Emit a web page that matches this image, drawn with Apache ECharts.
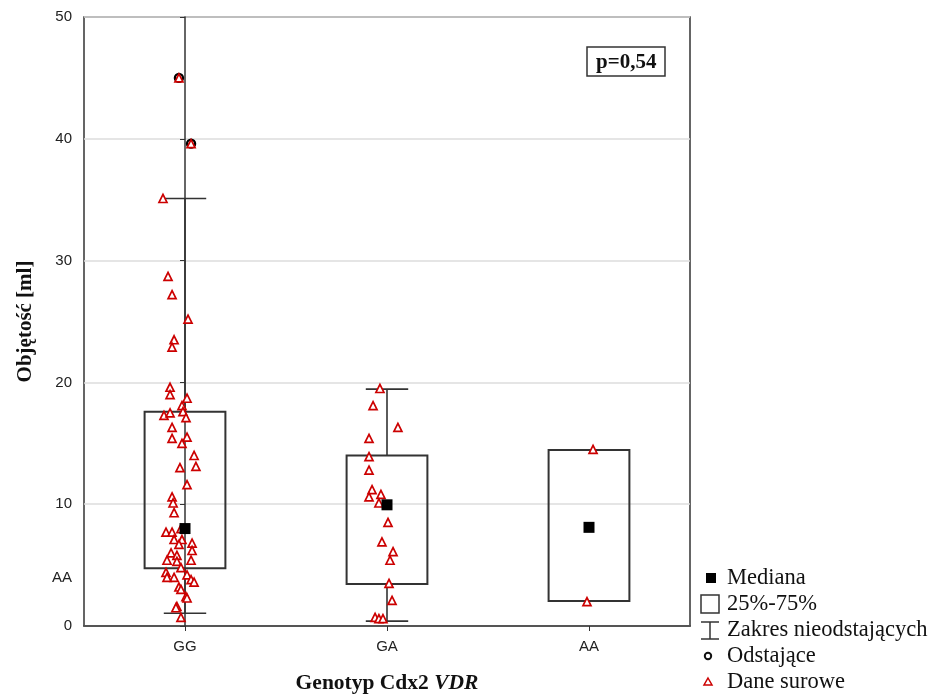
<!DOCTYPE html>
<html>
<head>
<meta charset="utf-8">
<script src="https://cdn.jsdelivr.net/npm/echarts@6/dist/echarts.min.js"></script>
<style>
  html, body { margin: 0; padding: 0; background: #fff; }
  #chart { width: 935px; height: 700px; }
</style>
</head>
<body>
<div id="chart"></div>
<script>
// kategorie genotypu
var categories = ['GG', 'GA', 'AA'];
// statystyki skrzynek
var q1 = [4.75, 3.45, 2.05];
var q3 = [17.6, 14.0, 14.45];
var medians = [8.0, 9.95, 8.1];
var whiskerLow = [1.05, 0.4, 2.05];
var whiskerHigh = [35.1, 19.45, 14.45];
// odstające (indeks kategorii, przesunięcie, wartość)
var outlierCat = [0, 0];
var outlierJitter = [-0.03, 0.03];
var outlierValues = [45.0, 39.6];
// dane surowe
var ggJitter = [-0.109, -0.084, -0.064, 0.015, -0.054, -0.064, -0.074, -0.074, 0.010, -0.015,
  -0.104, -0.074, -0.010, 0.005, -0.064, -0.064, 0.010, -0.015, 0.045, 0.054,
  -0.025, 0.010, -0.064, -0.059, -0.054, -0.094, -0.064, -0.020, -0.054, -0.015,
  0.035, 0.035, -0.030, -0.069, -0.040, -0.089, 0.030, -0.040, -0.094, -0.054,
  -0.089, -0.020, 0.010, 0.030, 0.045, -0.030, -0.020, 0.005, 0.010, -0.040,
  -0.020, -0.045, -0.030, 0.030];
var ggValues = [35.1, 28.7, 27.2, 25.2, 23.5, 22.9, 19.6, 19.0, 18.7, 18.1,
  17.3, 17.5, 17.6, 17.1, 16.3, 15.4, 15.5, 15.0, 14.0, 13.1,
  13.0, 11.6, 10.6, 10.1, 9.3, 7.7, 7.7, 8.0, 7.1, 7.1,
  6.8, 6.2, 6.7, 6.0, 5.8, 5.4, 5.4, 5.3, 4.4, 4.0,
  4.0, 4.8, 4.2, 3.8, 3.6, 3.2, 3.0, 2.4, 2.3, 1.6,
  0.7, 1.5, 45.0, 39.6];
var gaJitter = [-0.035, -0.069, 0.054, -0.089, -0.089, -0.089, -0.074, -0.089, -0.030, -0.040,
  0.005, -0.025, 0.030, 0.015, 0.010, 0.025, -0.059, -0.040, -0.020];
var gaValues = [19.5, 18.1, 16.3, 15.4, 13.9, 12.8, 11.2, 10.6, 10.8, 10.1,
  8.5, 6.9, 6.1, 5.4, 3.5, 2.1, 0.7, 0.6, 0.6];
var aaJitter = [0.02, -0.01];
var aaValues = [14.5, 2.0];

var rawJitter = [ggJitter, gaJitter, aaJitter];
var rawValues = [ggValues, gaValues, aaValues];

var boxData = categories.map(function (c, i) {
  return [i, whiskerLow[i], q1[i], q3[i], whiskerHigh[i]];
});
var medianData = medians.map(function (m, i) { return [i, m]; });
var outlierData = outlierValues.map(function (v, i) { return [outlierCat[i] + outlierJitter[i], v]; });
var rawData = [];
rawValues.forEach(function (vals, c) {
  vals.forEach(function (v, k) { rawData.push([c + rawJitter[c][k], v]); });
});

var LINE = '#333';
var RED = '#cc0000';
var BOX_HALF = 0.2;
var CAP_HALF = 0.105;

function renderBox(params, api) {
  var x = api.value(0);
  var lo = api.value(1), b1 = api.value(2), b3 = api.value(3), hi = api.value(4);
  var tl = api.coord([x - BOX_HALF, b3]);
  var br = api.coord([x + BOX_HALF, b1]);
  var c = api.coord([x, lo])[0];
  var yLo = api.coord([x, lo])[1], yHi = api.coord([x, hi])[1];
  var capL = api.coord([x - CAP_HALF, lo])[0], capR = api.coord([x + CAP_HALF, lo])[0];
  var st = { stroke: LINE, lineWidth: 1.6, fill: null };
  var kids = [
    { type: 'line', shape: { x1: c, y1: yLo, x2: c, y2: br[1] }, style: st },
    { type: 'line', shape: { x1: c, y1: tl[1], x2: c, y2: yHi }, style: st },
    { type: 'line', shape: { x1: capL, y1: yLo, x2: capR, y2: yLo }, style: st },
    { type: 'line', shape: { x1: capL, y1: yHi, x2: capR, y2: yHi }, style: st },
    { type: 'rect', shape: { x: tl[0], y: tl[1], width: br[0] - tl[0], height: br[1] - tl[1] },
      style: { stroke: LINE, lineWidth: 2, fill: null } }
  ];
  return { type: 'group', children: kids };
}

var serif = 'Liberation Serif';
var sans = 'Liberation Sans';
var legendY = 578, legendStep = 26;
var legendText = ['Mediana', '25%-75%', 'Zakres nieodstających', 'Odstające', 'Dane surowe'];

var legendKids = [
  { type: 'rect', shape: { x: 706, y: legendY - 5, width: 10, height: 10 }, style: { fill: '#000' } },
  { type: 'rect', shape: { x: 701, y: legendY + legendStep - 9, width: 18, height: 18 }, style: { fill: '#fff', stroke: LINE, lineWidth: 1.5 } },
  { type: 'line', shape: { x1: 701, y1: legendY + 2 * legendStep - 8, x2: 719, y2: legendY + 2 * legendStep - 8 }, style: { stroke: LINE, lineWidth: 1.5 } },
  { type: 'line', shape: { x1: 710, y1: legendY + 2 * legendStep - 8, x2: 710, y2: legendY + 2 * legendStep + 9 }, style: { stroke: LINE, lineWidth: 1.5 } },
  { type: 'line', shape: { x1: 701, y1: legendY + 2 * legendStep + 9, x2: 719, y2: legendY + 2 * legendStep + 9 }, style: { stroke: LINE, lineWidth: 1.5 } },
  { type: 'circle', shape: { cx: 708, cy: legendY + 3 * legendStep, r: 3.2 }, style: { fill: '#fff', stroke: '#111', lineWidth: 2 } },
  { type: 'polygon', shape: { points: [[708, legendY + 4 * legendStep - 4], [712, legendY + 4 * legendStep + 3], [704, legendY + 4 * legendStep + 3]] }, style: { fill: '#fff', stroke: RED, lineWidth: 1.5 } }
];
legendText.forEach(function (t, i) {
  legendKids.push({ type: 'text', x: 727, y: legendY + i * legendStep,
    style: { text: t, fontFamily: serif, fontSize: 22.5, fill: '#111', verticalAlign: 'middle' } });
});

var chart = echarts.init(document.getElementById('chart'));
chart.setOption({
  animation: false,
  backgroundColor: '#fff',
  title: {
    text: 'p=0,54',
    left: 587, top: 47,
    padding: [5, 9, 3, 9],
    borderColor: LINE, borderWidth: 1.5,
    textStyle: { fontFamily: serif, fontWeight: 'bold', fontSize: 21, color: '#111' }
  },
  grid: { left: 84, right: 245, top: 17, bottom: 74, show: true, borderColor: LINE, borderWidth: 1.5 },
  xAxis: {
    type: 'value', min: -0.5, max: 2.5,
    name: '{b|Genotyp Cdx2 }{i|VDR}',
    nameLocation: 'middle', nameGap: 46,
    nameTextStyle: {
      rich: {
        b: { fontFamily: serif, fontWeight: 'bold', fontSize: 21.5, color: '#111' },
        i: { fontFamily: serif, fontWeight: 'bold', fontStyle: 'italic', fontSize: 21.5, color: '#111' }
      }
    },
    axisLine: { lineStyle: { color: LINE, width: 1.5 } },
    axisTick: { customValues: [0, 1, 2], length: 5, lineStyle: { color: LINE } },
    axisLabel: {
      customValues: [0, 1, 2], margin: 13,
      fontFamily: sans, fontSize: 15, color: '#222',
      formatter: function (v) { return categories[Math.round(v)]; }
    },
    splitLine: { show: false }
  },
  yAxis: {
    type: 'value', min: 0, max: 50, interval: 10,
    name: 'Objętość [ml]',
    nameLocation: 'middle', nameGap: 48,
    nameTextStyle: { fontFamily: serif, fontWeight: 'bold', fontSize: 21, color: '#111' },
    axisLine: { show: true, lineStyle: { color: LINE, width: 1.5 } },
    axisTick: { show: true, length: 5, lineStyle: { color: LINE } },
    axisLabel: { margin: 12, fontFamily: sans, fontSize: 15, color: '#222' },
    splitLine: { lineStyle: { color: '#dcdcdc', width: 1.5 } }
  },
  series: [
    { type: 'custom', name: '25%-75%', renderItem: renderBox, data: boxData, z: 2 },
    { type: 'scatter', name: 'Odstające', data: outlierData, symbol: 'circle', symbolSize: 8,
      itemStyle: { color: '#fff', borderColor: '#000', borderWidth: 2.4, opacity: 1 }, z: 3 },
    { type: 'scatter', name: 'Dane surowe', data: rawData, symbol: 'triangle', symbolSize: 8,
      itemStyle: { color: '#fff', borderColor: RED, borderWidth: 1.7, opacity: 1 }, z: 4 },
    { type: 'scatter', name: 'Mediana', data: medianData, symbol: 'rect', symbolSize: 11,
      itemStyle: { color: '#000', opacity: 1 }, z: 5 }
  ],
  graphic: [
    { type: 'text', x: 72, y: 578, style: { text: 'AA', fontFamily: sans, fontSize: 15, fill: '#222', align: 'right', verticalAlign: 'middle' } },
    { type: 'group', children: legendKids }
  ]
});
</script>
</body>
</html>
